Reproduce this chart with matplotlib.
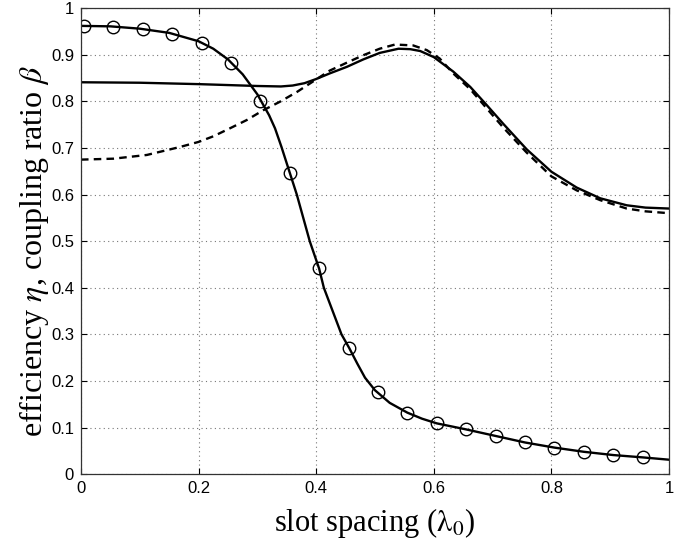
import matplotlib
matplotlib.use("Agg")
import matplotlib.pyplot as plt

# efficiency curve (solid line through the circles)
eta_x = [0.0, 0.05, 0.1, 0.15, 0.2, 0.225, 0.25, 0.275, 0.3, 0.32, 0.33,
         0.341, 0.355, 0.367, 0.378, 0.389, 0.405, 0.413, 0.428, 0.443,
         0.456, 0.47, 0.483, 0.5, 0.525, 0.555, 0.58, 0.605, 0.655, 0.705,
         0.755, 0.805, 0.855, 0.905, 0.955, 1.0]
eta_y = [0.962, 0.961, 0.956, 0.947, 0.929, 0.913, 0.890, 0.858, 0.815,
         0.770, 0.742, 0.702, 0.647, 0.600, 0.550, 0.500, 0.441, 0.400,
         0.350, 0.300, 0.271, 0.237, 0.207, 0.180, 0.153, 0.132, 0.119,
         0.109, 0.096, 0.082, 0.068, 0.057, 0.048, 0.041, 0.036, 0.031]

# circle markers on the efficiency curve
mark_x = [0.005, 0.055, 0.105, 0.155, 0.205, 0.255, 0.305, 0.355, 0.405,
          0.455, 0.505, 0.555, 0.605, 0.655, 0.705, 0.755, 0.805, 0.855,
          0.905, 0.955]
mark_y = [0.961, 0.960, 0.955, 0.945, 0.926, 0.883, 0.800, 0.647, 0.442,
          0.271, 0.176, 0.132, 0.109, 0.096, 0.082, 0.068, 0.057, 0.048,
          0.041, 0.036]

# coupling ratio, solid
beta1_x = [0.0, 0.1, 0.2, 0.25, 0.3, 0.34, 0.36, 0.38, 0.4, 0.423, 0.452,
           0.48, 0.508, 0.54, 0.56, 0.577, 0.6, 0.633, 0.662, 0.69, 0.718,
           0.758, 0.8, 0.843, 0.883, 0.928, 0.96, 1.0]
beta1_y = [0.841, 0.840, 0.837, 0.835, 0.833, 0.832, 0.834, 0.839, 0.848,
           0.860, 0.874, 0.890, 0.904, 0.913, 0.912, 0.908, 0.895, 0.864,
           0.831, 0.792, 0.752, 0.697, 0.649, 0.615, 0.592, 0.577, 0.572,
           0.570]

# coupling ratio, dashed
beta2_x = [0.0, 0.055, 0.112, 0.168, 0.2, 0.225, 0.253, 0.282, 0.31, 0.338,
           0.367, 0.395, 0.423, 0.452, 0.48, 0.508, 0.534, 0.565, 0.588,
           0.61, 0.633, 0.662, 0.69, 0.718, 0.758, 0.8, 0.843, 0.883, 0.928,
           0.96, 1.0]
beta2_y = [0.675, 0.677, 0.685, 0.702, 0.713, 0.725, 0.742, 0.760, 0.781,
           0.799, 0.820, 0.843, 0.866, 0.883, 0.899, 0.913, 0.922, 0.920,
           0.910, 0.892, 0.860, 0.826, 0.785, 0.744, 0.690, 0.639, 0.609,
           0.588, 0.570, 0.564, 0.560]

plt.rcParams["mathtext.fontset"] = "stix"
tick_font = "Liberation Sans"
label_font = "Liberation Serif"

fig = plt.figure(figsize=(6.94, 5.45), dpi=100)
ax = fig.add_axes([0.1167, 0.130, 0.8473, 0.855])

ax.plot(eta_x, eta_y, color="black", lw=1.7)
ax.plot(mark_x, mark_y, linestyle="none", marker="o", markersize=9,
        markerfacecolor="none", markeredgecolor="black", markeredgewidth=1.0)
ax.plot(beta1_x, beta1_y, color="black", lw=1.7)
ax.plot(beta2_x, beta2_y, color="black", lw=1.7, linestyle=(0, (3.2, 2.2)))

ax.set_xlim(0, 1)
ax.set_ylim(0, 1)
ax.set_xticks([0, 0.2, 0.4, 0.6, 0.8, 1])
ax.set_xticklabels(["0", "0.2", "0.4", "0.6", "0.8", "1"])
ax.set_yticks([0, 0.1, 0.2, 0.3, 0.4, 0.5, 0.6, 0.7, 0.8, 0.9, 1])
ax.set_yticklabels(["0", "0.1", "0.2", "0.3", "0.4", "0.5", "0.6", "0.7",
                    "0.8", "0.9", "1"])
ax.tick_params(direction="in", top=True, right=True, length=4, width=0.8,
               labelsize=12, pad=5)
for lab in ax.get_xticklabels() + ax.get_yticklabels():
    lab.set_family(tick_font)

ax.grid(True, linestyle=(0, (1, 3)), color="#777777", linewidth=0.8)
for sp in ax.spines.values():
    sp.set_linewidth(0.9)
    sp.set_color("#333333")

ax.set_xlabel(r"slot spacing ($\mathrm{\lambda}_0$)", family=label_font,
              fontsize=22, labelpad=7)
ax.set_ylabel(r"efficiency $\eta$, coupling ratio $\beta$", family=label_font,
              fontsize=23, labelpad=0)
ax.yaxis.label.set_y(0.48)

fig.savefig("out.png", dpi=100)
